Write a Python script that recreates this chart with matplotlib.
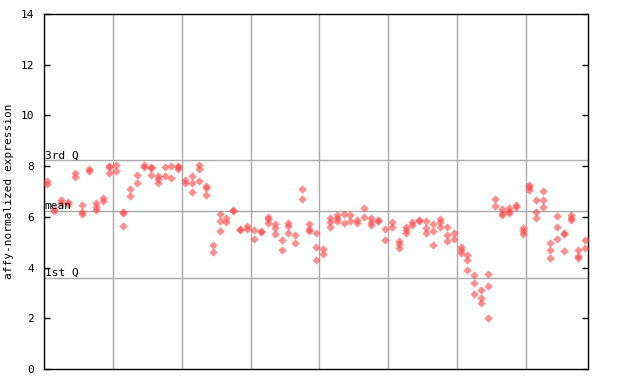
import numpy as np
from matplotlib import pyplot as plt

nan = np.nan

# three values per sample (nan where only two points are shown)
rep_a = [7.41, 6.32, 6.66, 6.60, 7.72, 6.45, 7.89, 6.53, 6.73, 8.02,
         8.04, 6.20, 7.09, 7.65, 8.04, 7.97, 7.61, 7.95, 8.00, 8.02,
         7.45, 7.61, 8.04, 7.23, 4.90, 6.11, 5.95, 6.28, 5.54, 5.64,
         5.48, 5.43, 6.00, 5.72, 5.09, 5.74, 5.27, 7.10, 5.72, 5.35,
         4.72, 5.97, 6.06, 6.11, 6.06, 5.88, 6.34, 5.94, 5.87, 5.51,
         5.81, 5.06, 5.59, 5.81, 5.87, 5.85, 5.72, 5.91, 5.59, 5.35,
         4.80, 4.48, 3.69, 3.12, 3.73, 6.71, 6.32, 6.34, 6.47, 5.56,
         7.26, 6.65, 7.02, 4.96, 6.02, 5.38, 6.07, 4.69, 5.09]
rep_b = [7.28, 6.25, 6.56, 6.49, 7.56, 6.20, 7.80, 6.37, 6.62, 7.97,
         7.80, 6.16, 6.82, 7.32, 7.95, 7.93, 7.48, 7.61, 7.52, 7.95,
         7.35, 7.32, 7.89, 7.12, 4.60, 5.84, 5.78, 6.22, 5.50, 5.51,
         5.11, 5.39, 5.91, 5.55, 4.69, 5.64, 4.97, 6.69, 5.51, 4.80,
         4.53, 5.80, 5.95, 5.74, 5.82, 5.77, 5.98, 5.81, 5.83, 5.09,
         5.61, 4.93, 5.48, 5.68, 5.83, 5.56, 5.44, 5.81, 5.27, 5.11,
         4.69, 4.30, 3.38, 2.79, 3.27, 6.41, 6.14, 6.24, 6.37, 5.44,
         7.16, 6.19, 6.65, 4.69, 5.59, 5.31, 5.97, 4.46, 4.76]
rep_c = [nan, nan, nan, nan, nan, 6.10, nan, 6.26, nan, 7.74,
         nan, 5.64, nan, nan, nan, 7.65, 7.35, nan, nan, 7.87,
         nan, 7.00, 7.41, 6.85, nan, 5.44, nan, nan, nan, nan,
         nan, nan, 5.74, 5.31, nan, 5.35, nan, nan, 5.43, 4.30,
         nan, 5.59, 5.82, nan, nan, nan, nan, 5.69, nan, nan,
         nan, 4.77, 5.38, nan, nan, 5.35, 4.88, 5.61, 5.05, nan,
         4.59, 3.90, 2.94, 2.61, 2.00, nan, 6.06, 6.16, nan, 5.34,
         7.06, 5.97, 6.37, 4.36, 5.11, 4.64, 5.88, 4.36, nan]

q3, mean, q1 = 8.23, 6.23, 3.60
yticks = [0, 2, 4, 6, 8, 10, 12, 14]

n = len(rep_a)
samples = np.arange(1, n + 1)

plt.rcParams['font.family'] = 'DejaVu Sans Mono'
fig = plt.figure(figsize=(6.4, 3.84), dpi=100)
ax = fig.add_axes([44 / 640, 15 / 384, 544 / 640, 355 / 384])

# group separators every 10 samples
for xb in np.arange(10.5, n, 10):
    ax.axvline(xb, color="#aaaaaa", lw=1, zorder=1)
for yq in (q3, mean, q1):
    ax.axhline(yq, color="#aaaaaa", lw=1, zorder=1)

for rep in (rep_a, rep_b, rep_c):
    ax.scatter(samples, rep, marker="D", s=18, color="#ff4444",
               alpha=0.6, linewidths=0, zorder=3)

ax.text(0.6, q3, "3rd Q", fontsize=8, va="bottom", ha="left")
ax.text(0.6, mean, "mean", fontsize=8, va="bottom", ha="left")
ax.text(0.6, q1, "1st Q", fontsize=8, va="bottom", ha="left")

ax.set_xlim(0.5, n + 0.5)
ax.set_ylim(0, 14)
ax.set_yticks(yticks)
ax.set_xticks([])
ax.tick_params(axis="y", direction="in", length=4, width=1, labelsize=8,
               pad=7, right=True)
for sp in ax.spines.values():
    sp.set_linewidth(1)
ax.set_ylabel("affy-normalized expression", fontsize=8, labelpad=5)

plt.savefig("out.png")
